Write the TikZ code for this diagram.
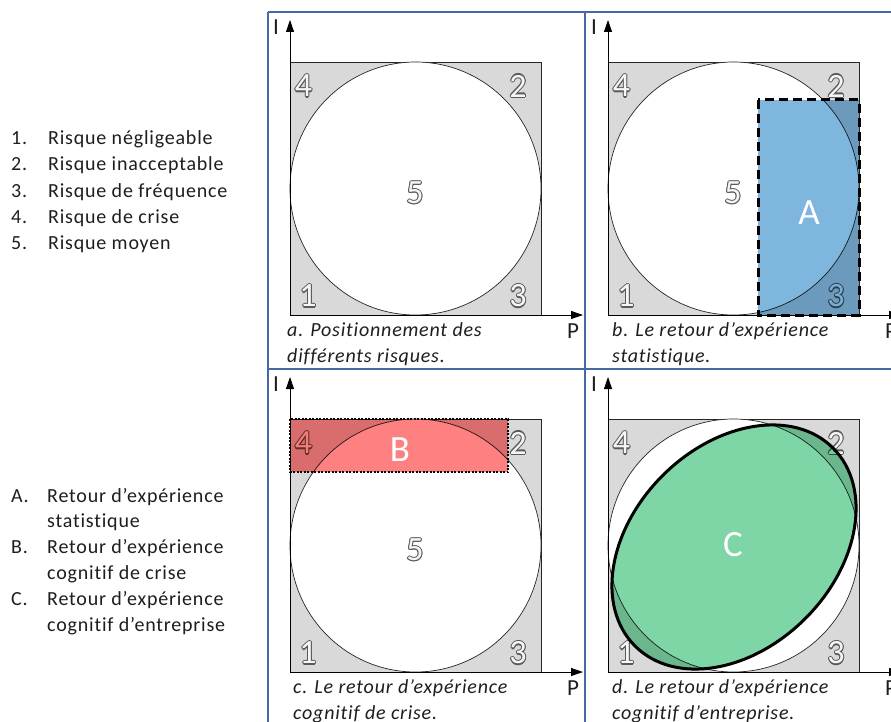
\documentclass[tikz,border=0pt]{standalone}
\usepackage{fontspec}
\setmainfont{Carlito}
\newfontfamily\widef[LetterSpace=4,Ligatures=NoCommon]{Carlito}
\usetikzlibrary{arrows.meta,calc}
\definecolor{gridblue}{RGB}{70,106,160}
\definecolor{sqgray}{RGB}{217,217,217}
\definecolor{digline}{RGB}{90,90,90}
\definecolor{digfill}{RGB}{246,246,246}
\definecolor{fillA}{RGB}{126,182,222}
\definecolor{fillB}{RGB}{255,128,128}
\definecolor{fillC}{RGB}{126,214,166}
\definecolor{txt}{RGB}{30,30,30}
\tikzset{
  sq/.style={fill=sqgray, draw=black!85, line width=0.8pt},
  circ/.style={fill=white, draw=black!85, line width=0.7pt},
  digout/.style={text=digline, font=\fontsize{34}{34}\selectfont, inner sep=0pt},
  digin/.style={text=digfill, font=\fontsize{34}{34}\selectfont, inner sep=0pt},
  axis/.style={line width=0.8pt, -{Triangle[length=12pt,width=8pt]}},
  axlab/.style={font=\fontsize{23}{23}\selectfont, inner sep=0pt, text=txt},
  capt/.style={font=\fontsize{20}{20}\widef\itshape, anchor=base west, inner sep=0pt, text=txt},
  bigl/.style={font=\fontsize{37}{37}\selectfont, text=white, inner sep=0pt},
  lst/.style={font=\fontsize{20}{20}\widef, anchor=base west, inner sep=0pt, text=txt},
  grid/.style={draw=gridblue, line width=1.5pt},
}
\newcommand\odig[3]{%
  \foreach \ang in {0,45,...,315} \node[digout] at ($(#2)+(\ang:1.1)$) {#3};
  \node[digin] (#1) at (#2) {#3};}
\newcommand\panelbase[1]{%
  \path[sq] (290,62) rectangle (541,315);
  \path[circ] (415.5,188.5) ellipse [x radius=125.5, y radius=126.5];
  \coordinate (#1o) at (290,315);
  \coordinate (#1ty) at (290,20);
  \coordinate (#1tx) at (583,315);
}
\newcommand\paneldigits[2]{%
  \odig{#1d4}{303.5,86}{4}
  \odig{#1d2}{518,86}{2}
  \odig{#1d1}{308,296}{1}
  \odig{#1d3}{518,296}{3}
  \ifx#2y\odig{#1d5}{415,193}{5}\fi
}
\newcommand\panelaxes[1]{%
  \draw[axis] (#1o) -- (#1ty);
  \draw[axis] (#1o) -- (#1tx);
  \node[axlab] (#1I) at (276,27) {I};
  \node[axlab] (#1P) at (573,331) {P};
}
\begin{document}
\begin{tikzpicture}[x=1pt,y=-1pt]
\useasboundingbox (0,0) rectangle (891,722);
\fill[white] (0,0) rectangle (891,722);
% grid of panels
\draw[grid] (268,12) -- (268,730);
\draw[grid] (585,12) -- (585,730);
\draw[grid] (268,12) -- (900,12);
\draw[grid] (268,369) -- (900,369);
% legend 1
\node[lst] (n1) at (11,145) {1.};
\node[lst] (t1) at (48,145) {Risque négligeable};
\node[lst] (n2) at (11,171) {2.};
\node[lst] (t2) at (48,171) {Risque inacceptable};
\node[lst] (n3) at (11,197) {3.};
\node[lst] (t3) at (48,197) {Risque de fréquence};
\node[lst] (n4) at (11,223) {4.};
\node[lst] (t4) at (48,223) {Risque de crise};
\node[lst] (n5) at (11,249) {5.};
\node[lst] (t5) at (48,249) {Risque moyen};
% legend 2
\node[lst] (lA) at (11,502) {A.};
\node[lst] (tA1) at (47,502) {Retour d’expérience};
\node[lst] (tA2) at (47,527.8) {statistique};
\node[lst] (lB) at (11,553.6) {B.};
\node[lst] (tB1) at (47,553.6) {Retour d’expérience};
\node[lst] (tB2) at (47,579.4) {cognitif de crise};
\node[lst] (lC) at (11,605.2) {C.};
\node[lst] (tC1) at (47,605.2) {Retour d’expérience};
\node[lst] (tC2) at (47,631) {cognitif d’entreprise};
% panel a
\begin{scope}
  \panelbase{a}
  \paneldigits{a}{y}
  \panelaxes{a}
  \node[capt] (ca1) at (287,336) {a. Positionnement des};
  \node[capt] (ca2) at (287,362) {différents risques.};
\end{scope}
% panel b
\begin{scope}[shift={(318,0)}]
  \panelbase{b}
  \paneldigits{b}{y}
  \begin{scope}[blend mode=multiply]
    \fill[fillA] (440,100) rectangle (541,315);
  \end{scope}
  \draw[line width=3pt, dash pattern=on 9pt off 5pt] (440,100) rectangle (541,315);
  \node[bigl] (A) at (491,213) {A};
  \panelaxes{b}
  \node[capt] (cb1) at (294,336) {b. Le retour d’expérience};
  \node[capt] (cb2) at (294,362) {statistique.};
\end{scope}
% panel c
\begin{scope}[shift={(0,357)}]
  \panelbase{c}
  \paneldigits{c}{y}
  \begin{scope}[blend mode=multiply]
    \fill[fillB] (290,62) rectangle (508,115);
  \end{scope}
  \draw[line width=2.5pt, dash pattern=on 2pt off 1.5pt] (290,62) rectangle (508,115);
  \node[bigl] (B) at (400,93) {B};
  \panelaxes{c}
  \node[capt] (cc1) at (293,336) {c. Le retour d’expérience};
  \node[capt] (cc2) at (293,362) {cognitif de crise.};
\end{scope}
% panel d
\begin{scope}[shift={(318,357)}]
  \panelbase{d}
  \paneldigits{d}{n}
  \begin{scope}[blend mode=multiply]
    \fill[fillC, rotate around={45:(416,190)}] (416,190) ellipse [x radius=140, y radius=101];
  \end{scope}
  \draw[line width=3pt, rotate around={45:(416,190)}] (416,190) ellipse [x radius=140, y radius=101];
  \node[bigl] (C) at (415,188) {C};
  \panelaxes{d}
  \node[capt] (cd1) at (294,336) {d. Le retour d’expérience};
  \node[capt] (cd2) at (294,362) {cognitif d’entreprise.};
\end{scope}
\end{tikzpicture}
\end{document}
